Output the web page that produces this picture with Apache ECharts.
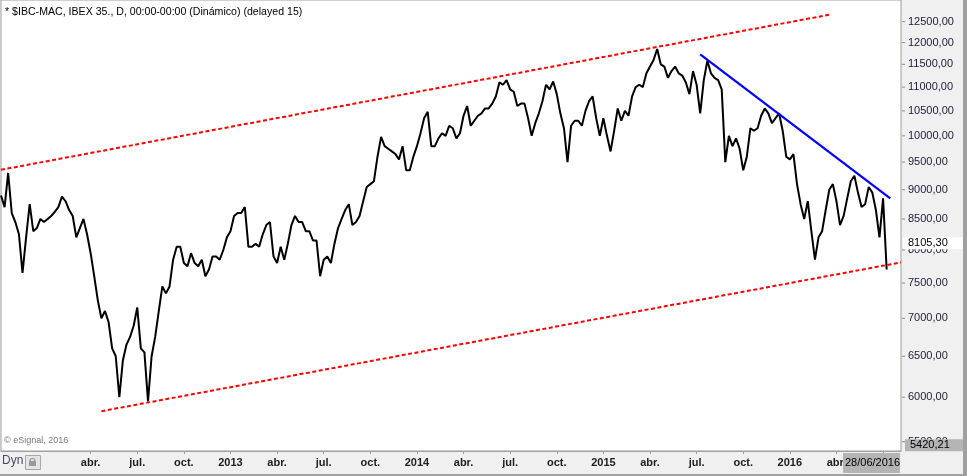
<!DOCTYPE html>
<html>
<head>
<meta charset="utf-8">
<title>IBEX 35</title>
<script src="https://cdn.jsdelivr.net/npm/echarts@6/dist/echarts.min.js"></script>
<style>
html, body { margin: 0; padding: 0; background: #f0f0f0; }
#chart { width: 967px; height: 476px; }
</style>
</head>
<body>
<div id="chart"></div>
<script>
// semanas (viernes) desde el 14/10/2011
var startWeek = '2011-10-14';
var weekCount = 252;

// cierre semanal aproximado
var closes = [
    8900, 8700, 9300, 8600, 8450, 8250, 7650, 8200, 8750, 8300,
    8350, 8500, 8450, 8500, 8550, 8620, 8700, 8880, 8800, 8650,
    8550, 8200, 8350, 8500, 8250, 7950, 7600, 7250, 7000, 7100,
    6950, 6600, 6500, 6000, 6450, 6650, 6750, 6900, 7150, 6600,
    6550, 5950, 6500, 6750, 7100, 7450, 7350, 7450, 7850, 8050,
    8050, 7800, 7750, 7950, 7800, 7750, 7850, 7600, 7700, 7900,
    7900, 7850, 8000, 8200, 8300, 8550, 8600, 8600, 8700, 8050,
    8050, 8100, 8050, 8250, 8400, 8450, 7900, 7800, 8050, 7850,
    8100, 8400, 8550, 8450, 8450, 8300, 8300, 8150, 8150, 7600,
    7850, 7900, 7800, 8100, 8350, 8500, 8650, 8750, 8400, 8450,
    8550, 8800, 9050, 9100, 9150, 9600, 9980, 9800, 9750, 9700,
    9650, 9550, 9800, 9350, 9350, 9600, 9800, 10050, 10350, 10480,
    9800, 9800, 9950, 10050, 10000, 10200, 10150, 9950, 10050, 10400,
    10600, 10200, 10300, 10400, 10450, 10550, 10550, 10650, 10800, 11100,
    11050, 11150, 10950, 10900, 10600, 10650, 10650, 10350, 10000, 10250,
    10450, 10700, 11050, 10950, 11120, 10850, 10450, 10150, 9500, 10200,
    10300, 10300, 10200, 10500, 10700, 10800, 10350, 10000, 10350, 10000,
    9700, 10100, 10550, 10300, 10500, 10400, 10800, 11000, 11050, 11000,
    11300, 11450, 11600, 11850, 11500, 11450, 11200, 11350, 11450, 11300,
    11250, 11100, 10850, 11350, 11050, 10450, 11150, 11580, 11300, 11200,
    11150, 10950, 9500, 10000, 9800, 9950, 9750, 9350, 9600, 10150,
    10100, 10150, 10400, 10550, 10450, 10250, 10350, 10450, 10100, 9600,
    9550, 9650, 9100, 8750, 8500, 8800, 8300, 7850, 8200, 8300,
    8650, 9000, 9100, 8800, 8400, 8550, 8850, 9150, 9250, 8950,
    8700, 8750, 9050, 8950, 8650, 8200, 8850, 7700
];

var priceTicks = [12500, 12000, 11500, 11000, 10500, 10000, 9500, 9000, 8500, 8000, 7500, 7000, 6500, 6000, 5500];
var monthLabels = { 3: 'abr.', 6: 'jul.', 9: 'oct.' };

var lastPrice = 8105.30;
var lowMark = 5420.21;
var lastDate = '28/06/2016';

// lineas de tendencia [semana, precio]
var upperChannel = [[0, 9358], [231, 12671]];
var lowerChannel = [[28, 5838], [251, 7809]];
var blueTrend = [[195, 11726], [248, 8850]];

var FONT = '"Liberation Sans", Arial, sans-serif';

var weeks = [];
var t0 = Date.parse(startWeek + 'T00:00:00Z');
for (var i = 0; i < weekCount; i++) {
    weeks.push(new Date(t0 + i * 7 * 86400000).toISOString().slice(0, 10));
}

function monthOf(i) {
    return +weeks[i].slice(5, 7) - 1;
}

// primera semana de cada trimestre
function isQuarterStart(i) {
    if (i < 20) return false;
    var m = monthOf(i);
    return m !== monthOf(i - 1) && m % 3 === 0;
}

function fmtPrice(v) {
    return (+v).toFixed(2).replace('.', ',');
}

var dashStyle = { color: '#ff0000', width: 2, type: [4, 2.5] };
var hidden = { color: 'rgba(0,0,0,0)', width: 0, opacity: 1 };

var markData = [
    [{ coord: upperChannel[0], lineStyle: dashStyle }, { coord: upperChannel[1] }],
    [{ coord: lowerChannel[0], lineStyle: dashStyle }, { coord: lowerChannel[1] }],
    [{ coord: blueTrend[0], lineStyle: { color: '#0000ff', width: 2.2, type: 'solid' } }, { coord: blueTrend[1] }]
];

// etiquetas del eje de precios
for (var k = 0; k < priceTicks.length; k++) {
    markData.push({
        yAxis: priceTicks[k],
        lineStyle: hidden,
        label: {
            show: true,
            position: 'end',
            distance: 1,
            opacity: 1,
            formatter: '{t|}{v|' + fmtPrice(priceTicks[k]) + '}',
            rich: {
                t: { width: 3, height: 1, backgroundColor: '#8a8a8a' },
                v: { padding: [0, 0, 0, 3], color: '#1c1c38', fontSize: 11, fontFamily: FONT }
            }
        }
    });
}

// ultimo precio y minimo
function markerLabel(bg, offset) {
    return {
        show: true,
        position: 'end',
        distance: 2,
        opacity: 1,
        fontSize: 11,
        fontFamily: FONT,
        color: '#000',
        backgroundColor: bg,
        offset: offset,
        padding: [1, 4, 0, 5],
        width: 51,
        height: 11
    };
}
var lastLabel = markerLabel('#fff', [0, 0]);
lastLabel.formatter = fmtPrice(lastPrice);
var lowLabel = markerLabel('#b4b4b4', [2, -4]);
lowLabel.formatter = fmtPrice(lowMark);
markData.push({ yAxis: lastPrice, lineStyle: hidden, label: lastLabel });
markData.push({ yAxis: lowMark, lineStyle: hidden, label: lowLabel });

var myChart = echarts.init(document.getElementById('chart'));

var option = {
    animation: false,
    backgroundColor: '#f0f0f0',
    title: {
        text: '* $IBC-MAC, IBEX 35., D, 00:00-00:00 (Dinámico) (delayed 15)',
        left: 0,
        top: 2,
        textStyle: { fontSize: 10.6, fontWeight: 'normal', color: '#000', fontFamily: FONT }
    },
    grid: {
        left: 1,
        right: 66,
        top: 0,
        bottom: 25,
        show: true,
        backgroundColor: '#fff',
        borderColor: '#a0a0a0',
        borderWidth: 1
    },
    xAxis: {
        type: 'category',
        data: weeks,
        boundaryGap: false,
        axisLine: { show: true, lineStyle: { color: '#a0a0a0' } },
        axisTick: {
            show: true,
            interval: isQuarterStart,
            length: 3,
            lineStyle: { color: '#a0a0a0' }
        },
        axisLabel: {
            interval: isQuarterStart,
            margin: 6,
            fontSize: 11,
            fontWeight: 'bold',
            color: '#202020',
            fontFamily: FONT,
            formatter: function(value) {
                var m = +value.slice(5, 7) - 1;
                return m === 0 ? value.slice(0, 4) : monthLabels[m];
            }
        },
        splitLine: { show: false }
    },
    yAxis: {
        type: 'log',
        logBase: 10,
        min: 5401,
        max: 13041,
        position: 'right',
        axisLine: { show: false },
        axisTick: { show: false },
        axisLabel: { show: false },
        splitLine: { show: false }
    },
    series: [{
        type: 'line',
        data: closes,
        showSymbol: false,
        clip: false,
        lineStyle: { color: '#000', width: 2 },
        z: 3,
        markLine: {
            silent: true,
            symbol: ['none', 'none'],
            label: { show: false },
            data: markData
        }
    }],
    graphic: [
        {
            type: 'text',
            left: 4,
            top: 436,
            style: { text: '© eSignal, 2016', fontSize: 9, fill: '#7a7a7a', fontFamily: FONT }
        },
        {
            type: 'text',
            left: 2,
            top: 455,
            style: { text: 'Dyn', fontSize: 12, fill: '#4a4a6a', fontFamily: FONT }
        },
        {
            type: 'rect',
            shape: { x: 25.5, y: 455.5, width: 15, height: 14 },
            style: { fill: '#e4e4e4', stroke: '#a8a8a8', lineWidth: 1 }
        },
        {
            type: 'rect',
            shape: { x: 29, y: 461, width: 7, height: 5 },
            style: { fill: '#9a9a9a' }
        },
        {
            type: 'arc',
            shape: { cx: 32.5, cy: 461, r: 2.5, startAngle: Math.PI, endAngle: 2 * Math.PI },
            style: { fill: 'none', stroke: '#9a9a9a', lineWidth: 1.2 }
        },
        {
            type: 'rect',
            z: 10,
            shape: { x: 843, y: 453, width: 57, height: 20 },
            style: { fill: '#b4b4b4' }
        },
        {
            type: 'text',
            z: 11,
            left: 845,
            top: 457,
            style: { text: lastDate, fontSize: 11, fill: '#000', fontFamily: FONT }
        },
        {
            type: 'rect',
            z: 10,
            shape: { x: 963, y: 0, width: 4, height: 476 },
            style: { fill: '#a0a0a0' }
        },
        {
            type: 'rect',
            z: 10,
            shape: { x: 0, y: 474, width: 967, height: 2 },
            style: { fill: '#a0a0a0' }
        }
    ]
};

myChart.setOption(option);
</script>
</body>
</html>
